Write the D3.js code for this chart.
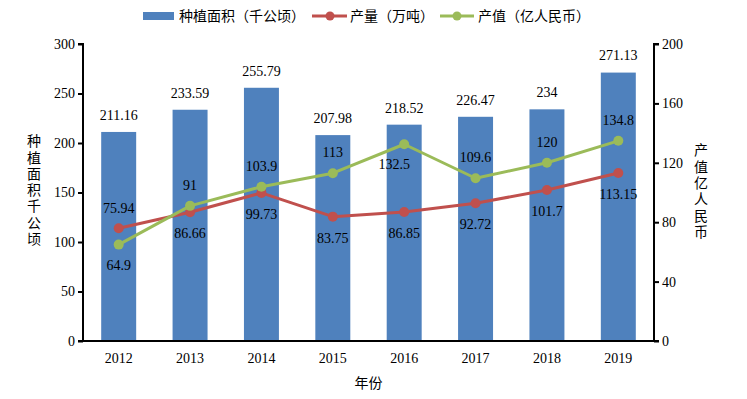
<!DOCTYPE html>
<html><head><meta charset="utf-8">
<script src="https://cdn.jsdelivr.net/npm/d3@7"></script>
<style>body{margin:0;background:#fff}svg{display:block}</style>
</head><body>
<svg id="c" width="747" height="399"></svg>
<script>
const years = ["2012","2013","2014","2015","2016","2017","2018","2019"];
const area = [211.16,233.59,255.79,207.98,218.52,226.47,234,271.13];
const output = [75.94,86.66,99.73,83.75,86.85,92.72,101.7,113.15];
const value = [64.9,91,103.9,113,132.5,109.6,120,134.8];
const outputLabelSide = ["up","down","down","down","down","down","down","down"];
const valueLabelSide = ["down","up","up","up","down","up","up","up"];
const leftTicks = [0,50,100,150,200,250,300];
const rightTicks = [0,40,80,120,160,200];

const svg = d3.select("#c");
const L = 83, R = 654, T = 44, B = 341;
const serif = "'Liberation Serif','Times New Roman',serif";
const cjk = "'Noto Sans CJK SC','Noto Sans',sans-serif";
const BLUE = "#4F81BD", RED = "#C0504D", GREEN = "#9BBB59";

const x = d3.scaleBand().domain(years).range([L, R]).paddingInner(0.51).paddingOuter(0.255);
const yL = d3.scaleLinear().domain([0,300]).range([B, T]);
const yR = d3.scaleLinear().domain([0,200]).range([B, T]);
const cx = d => x(d) + x.bandwidth()/2;

// bars
svg.append("g").selectAll("rect").data(years).join("rect")
  .attr("x", d => x(d)).attr("width", x.bandwidth())
  .attr("y", (d,i) => yL(area[i])).attr("height", (d,i) => B - yL(area[i]))
  .attr("fill", BLUE);

// axes
const axL = d3.axisLeft(yL).tickValues(leftTicks).tickSize(5).tickPadding(3);
const gL = svg.append("g").attr("transform", `translate(${L},0)`).call(axL);
const axR = d3.axisRight(yR).tickValues(rightTicks).tickSize(5).tickPadding(3);
const gR = svg.append("g").attr("transform", `translate(${R},0)`).call(axR);
const axB = d3.axisBottom(x).tickSize(0).tickPadding(12);
const gB = svg.append("g").attr("transform", `translate(0,${B})`).call(axB);
[gL,gR,gB].forEach(g => {
  g.select(".domain").attr("stroke","#000").attr("stroke-width",2);
  g.selectAll(".tick line").attr("stroke","#000").attr("stroke-width",2);
  g.selectAll("text").attr("font-family", serif).attr("font-size", 14).attr("fill","#000");
});
gL.select(".domain").attr("d", `M-5,${B}H0V${T}H-5`);
gR.select(".domain").attr("d", `M5,${B}H0V${T}H5`);
gB.select(".domain").attr("d", `M${L},0H${R}`);

// lines
function drawLine(vals, color) {
  const line = d3.line().x((d,i) => cx(years[i])).y(d => yR(d));
  svg.append("path").datum(vals).attr("d", line).attr("fill","none")
    .attr("stroke", color).attr("stroke-width", 3).attr("stroke-linejoin","round");
  svg.append("g").selectAll("circle").data(vals).join("circle")
    .attr("cx", (d,i) => cx(years[i])).attr("cy", d => yR(d)).attr("r", 5).attr("fill", color);
}
drawLine(output, RED);
drawLine(value, GREEN);

// labels
const lab = svg.append("g").attr("font-family", serif).attr("font-size", 14).attr("fill","#000")
  .attr("text-anchor","middle");
years.forEach((yv,i) => {
  lab.append("text").attr("x", cx(yv)).attr("y", yL(area[i]) - 17).attr("dy","0.35em").text(area[i]);
  lab.append("text").attr("x", cx(yv))
    .attr("y", yR(output[i]) + (outputLabelSide[i] === "up" ? -20 : 21)).attr("dy","0.35em").text(output[i]);
  lab.append("text").attr("x", cx(yv) - (i === 4 ? 10 : 0))
    .attr("y", yR(value[i]) + (valueLabelSide[i] === "up" ? -21 : 20)).attr("dy","0.35em").text(value[i]);
});

// axis titles (vertical)
function vtitle(str, xc, ycenter) {
  svg.append("text").attr("x", xc).attr("y", ycenter)
    .attr("font-family", cjk).attr("font-size", 14).attr("fill","#000")
    .attr("text-anchor","middle")
    .style("writing-mode","vertical-rl").style("glyph-orientation-vertical","0")
    .style("letter-spacing","2.3px")
    .text(str);
}
vtitle("种植面积千公顷", 34, 191);
vtitle("产值亿人民币", 701, 192);

svg.append("text").attr("x", (L+R)/2).attr("y", 383).attr("dy","0.35em")
  .attr("text-anchor","middle").attr("font-family", cjk).attr("font-size", 14).text("年份");

// legend
const lg = svg.append("g").attr("font-family", cjk).attr("font-size", 14).attr("fill","#000");
lg.append("rect").attr("x",143).attr("y",12).attr("width",31).attr("height",8).attr("fill",BLUE);
lg.append("text").attr("x",179).attr("y",16).attr("dy","0.35em").text("种植面积（千公顷）");
lg.append("line").attr("x1",312).attr("x2",347).attr("y1",16).attr("y2",16).attr("stroke",RED).attr("stroke-width",3);
lg.append("circle").attr("cx",330).attr("cy",16).attr("r",4.5).attr("fill",RED);
lg.append("text").attr("x",350).attr("y",16).attr("dy","0.35em").text("产量（万吨）");
lg.append("line").attr("x1",440).attr("x2",474).attr("y1",16).attr("y2",16).attr("stroke",GREEN).attr("stroke-width",3);
lg.append("circle").attr("cx",457).attr("cy",16).attr("r",4.5).attr("fill",GREEN);
lg.append("text").attr("x",478).attr("y",16).attr("dy","0.35em").text("产值（亿人民币）");
</script>
</body></html>
